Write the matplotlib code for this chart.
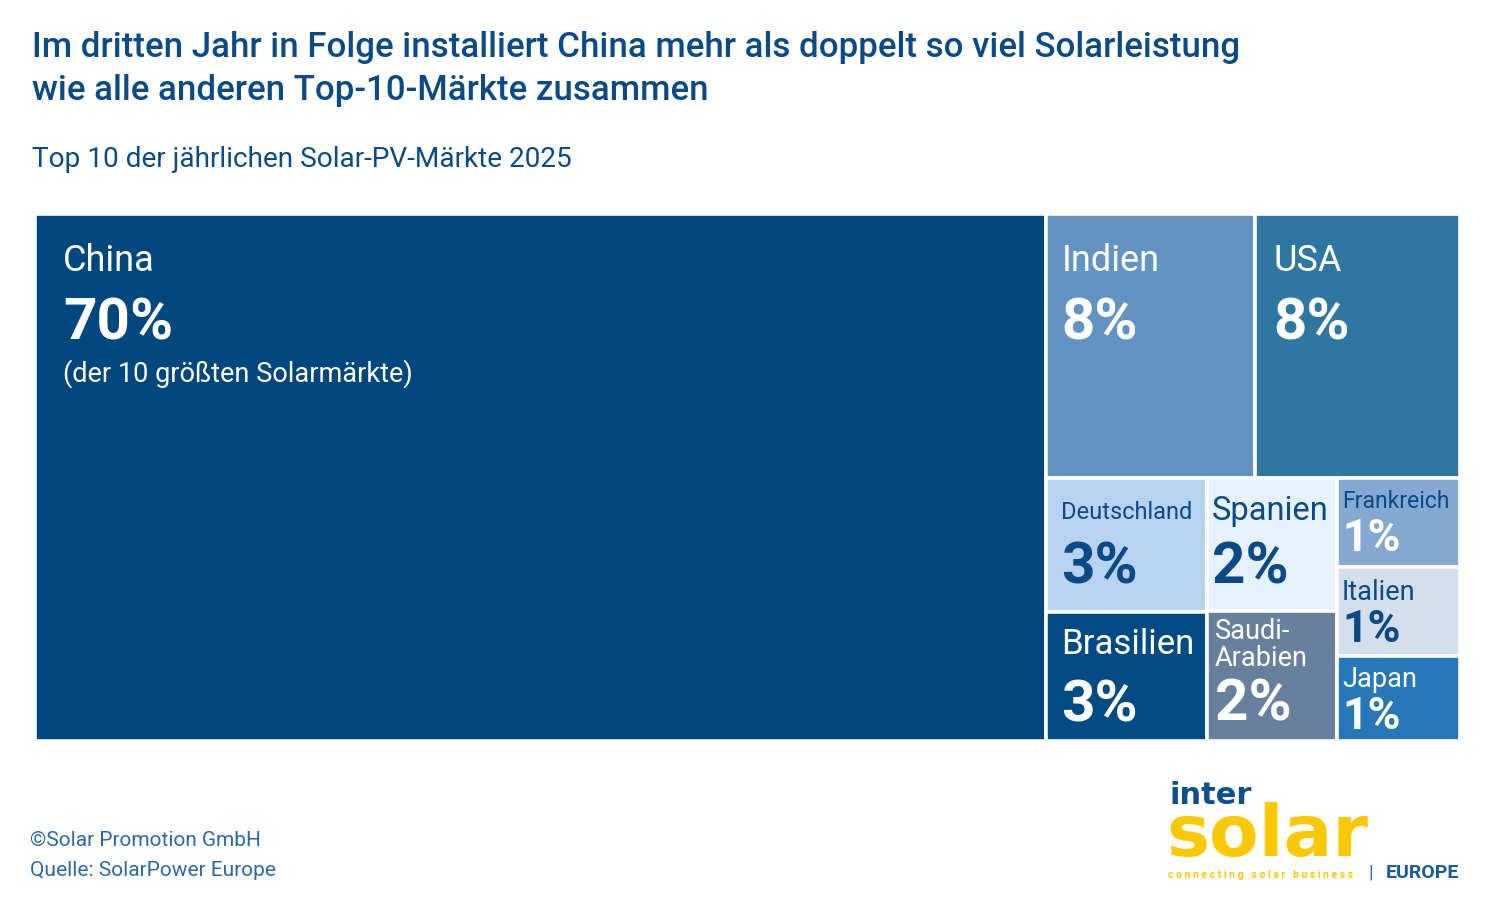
import matplotlib
matplotlib.use("Agg")
import matplotlib.pyplot as plt
from matplotlib.patches import Rectangle
from matplotlib.transforms import offset_copy

plt.rcParams['font.family'] = ['Roboto', 'DejaVu Sans']

# data: share of the top-10 markets
markets = ['China', 'Indien', 'USA', 'Deutschland', 'Brasilien',
           'Spanien', 'Saudi-Arabien', 'Frankreich', 'Italien', 'Japan']
shares = [70.9, 7.35, 7.2, 2.85, 2.75, 2.3, 2.25, 1.45, 1.45, 1.4]
share_labels = ['70%', '8%', '8%', '3%', '3%', '2%', '2%', '1%', '1%', '1%']
name_labels = ['China', 'Indien', 'USA', 'Deutschland', 'Brasilien',
               'Spanien', 'Saudi-\nArabien', 'Frankreich', 'Italien', 'Japan']

# treemap grouping: big block, top row of the right part, bottom columns
top_row = ['Indien', 'USA']
bottom_cols = [['Deutschland', 'Brasilien'], ['Spanien', 'Saudi-Arabien'],
               ['Frankreich', 'Italien', 'Japan']]

colors = {
    'China': '#00477f', 'Indien': '#6393c2', 'USA': '#2e77a1',
    'Deutschland': '#b8d3ef', 'Brasilien': '#004b86', 'Spanien': '#e5f2fc',
    'Saudi-Arabien': '#66809d', 'Frankreich': '#83a8d2', 'Italien': '#d3dfed',
    'Japan': '#2877b8',
}
dark = '#0b4a86'
# (name colour, share colour, name size, share size, name baseline, share baseline, x pad) in px
styles = {
    'China':        ('white', 'white', 26, 42, 57, 125, 28),
    'Indien':       ('white', 'white', 26, 42, 57, 125, 15),
    'USA':          ('white', 'white', 26, 42, 57, 125, 18),
    'Deutschland':  (dark, dark, 17, 42, 41, 105, 15),
    'Brasilien':    ('white', 'white', 25, 42, 42, 109, 15),
    'Spanien':      (dark, dark, 23.5, 42, 42, 105, 5),
    'Saudi-Arabien': ('white', 'white', 19.5, 42, 55, 109, 8),
    'Frankreich':   (dark, 'white', 16.5, 32, 30, 73, 5),
    'Italien':      (dark, dark, 19.5, 32, 33, 75, 5),
    'Japan':        ('white', 'white', 19.5, 32, 31, 73, 5),
}

val = dict(zip(markets, shares))
lab = dict(zip(markets, share_labels))
nam = dict(zip(markets, name_labels))

# compute rectangles in unit coordinates (y down)
total = sum(shares)
rects = {}
cw = val['China'] / total
rects['China'] = (0, 0, cw, 1)
rest = total - val['China']
rw = 1 - cw
top_sum = sum(val[m] for m in top_row)
th = top_sum / rest
x = cw
for m in top_row:
    w = rw * val[m] / top_sum
    rects[m] = (x, 0, w, th)
    x += w
bot_sum = rest - top_sum
x = cw
for col in bottom_cols:
    csum = sum(val[m] for m in col)
    w = rw * csum / bot_sum
    y = th
    for m in col:
        h = (1 - th) * val[m] / csum
        rects[m] = (x, y, w, h)
        y += h
    x += w

fig = plt.figure(figsize=(15, 9.23), dpi=100)
W, H = 1500, 923
ax = fig.add_axes([35 / W, 1 - 741 / H, 1425 / W, 527 / H])
ax.set_xlim(0, 1)
ax.set_ylim(1, 0)
ax.axis('off')

for m in markets:
    x0, y0, w, h = rects[m]
    ax.add_patch(Rectangle((x0, y0), w, h, facecolor=colors[m],
                           edgecolor='white', linewidth=2.6))
    nc, sc, ns, ss, nb, sb, px = styles[m]
    t1 = offset_copy(ax.transData, fig=fig, x=px, y=-nb, units='dots')
    t2 = offset_copy(ax.transData, fig=fig, x=px, y=-sb, units='dots')
    ax.text(x0, y0, nam[m], transform=t1, color=nc, fontsize=ns,
            fontweight='normal', va='baseline', ha='left', linespacing=1.0)
    ax.text(x0, y0, lab[m], transform=t2, color=sc, fontsize=ss,
            fontweight='bold', va='baseline', ha='left')
    if m == 'China':
        t3 = offset_copy(ax.transData, fig=fig, x=px, y=-168, units='dots')
        ax.text(x0, y0, '(der 10 größten Solarmärkte)', transform=t3,
                color='white', fontsize=19.5, fontweight='normal', va='baseline')

# titles
fig.text(32 / W, 1 - 57 / H,
         'Im dritten Jahr in Folge installiert China mehr als doppelt so viel Solarleistung',
         fontsize=25.1, fontweight='medium', color=dark, va='baseline')
fig.text(32 / W, 1 - 100 / H, 'wie alle anderen Top-10-Märkte zusammen',
         fontsize=25.1, fontweight='medium', color=dark, va='baseline')
fig.text(32 / W, 1 - 167 / H, 'Top 10 der jährlichen Solar-PV-Märkte 2025',
         fontsize=20.2, fontweight='normal', color=dark, va='baseline')

# footer
foot = '#2c6aa6'
fig.text(30 / W, 1 - 846 / H, '©Solar Promotion GmbH', fontsize=15,
         fontweight='normal', color=foot, va='baseline')
fig.text(30 / W, 1 - 876 / H, 'Quelle: SolarPower Europe', fontsize=15,
         fontweight='normal', color=foot, va='baseline')

# logo
yellow = '#fec800'
fig.text(1170 / W, 1 - 804 / H, 'inter', fontsize=22, fontweight='bold',
         color='#0b4f93', va='baseline', family='DejaVu Sans')
fig.text(1166 / W, 1 - 856 / H, 'solar', fontsize=52, fontweight='bold',
         color=yellow, va='baseline', family='DejaVu Sans')
fig.text(1168 / W, 1 - 878 / H, 'c o n n e c t i n g   s o l a r   b u s i n e s s',
         fontsize=7.5, fontweight='bold', color=yellow, va='baseline')
fig.text(1368 / W, 1 - 878 / H, '|', fontsize=14, color='#2c6aa6', va='baseline')
fig.text(1386 / W, 1 - 878 / H, 'EUROPE', fontsize=14, fontweight='bold',
         color='#1b5a9c', va='baseline')

fig.savefig('out.png', dpi=100, facecolor='white')
